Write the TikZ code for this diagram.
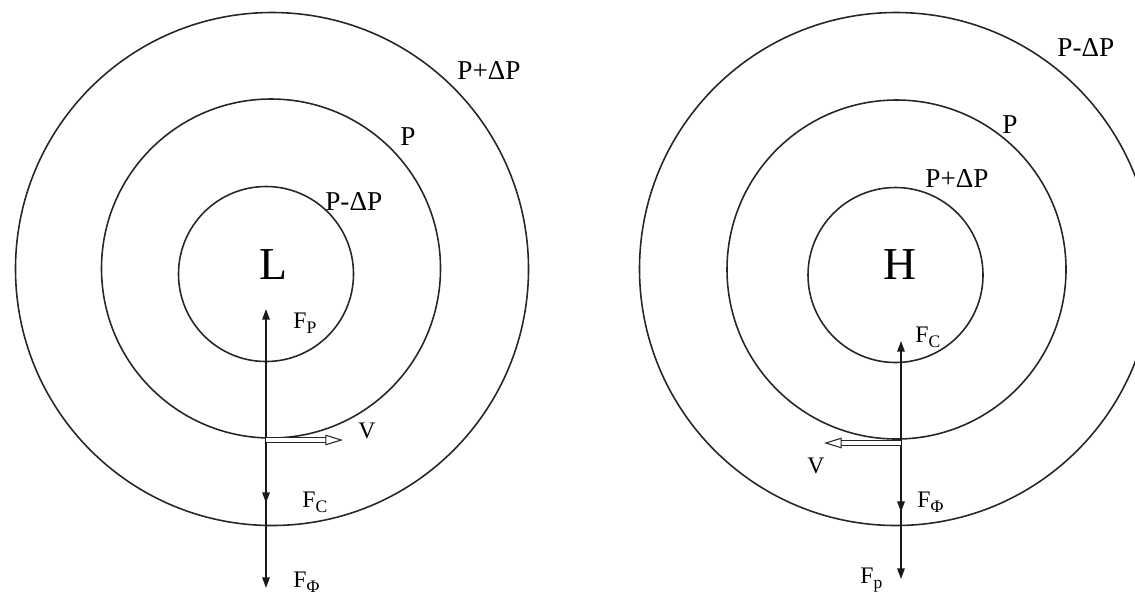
\documentclass[tikz,border=0pt]{standalone}
\usepackage{fontspec}
\setmainfont{Liberation Serif}
\usetikzlibrary{arrows.meta}
\newcommand\lowidx[1]{\raisebox{-3.2pt}{\fontsize{10}{10}\selectfont #1}}

\begin{document}
\begin{tikzpicture}[x=0.02cm,y=-0.02cm,
  ring/.style={draw=black!85, line width=0.9pt},
  force/.style={draw=black!90, line width=0.9pt, -{Triangle[length=6pt,width=4.2pt]}},
  speed/.style={draw=black!85, line width=0.6pt, double=white, double distance=2.2pt, -{Triangle[open,length=10pt,width=6pt]}},
  isobar/.style={font=\fontsize{15.5}{16}\selectfont, inner sep=0pt, anchor=base west},
  flabel/.style={font=\fontsize{13.5}{14}\selectfont, inner sep=0pt, anchor=base west},
  core/.style={font=\fontsize{26}{26}\selectfont, inner sep=0pt}]
\useasboundingbox (0,0) rectangle (1135,600);
\clip (0,0) rectangle (1135,600);

% low pressure side
\draw[ring] (272,269) circle[radius=256.5];
\draw[ring] (271,268.5) circle[radius=169.5];
\draw[ring] (266,274) circle[radius=87.5];
\node[core] (L) at (273,265) {L};
\node[isobar] (Lout) at (457,79) {P+ΔP};
\node[isobar] (Lmid) at (400,145) {P};
\node[isobar] (Lin) at (325,210) {P-ΔP};

\coordinate (Lbase) at (266,438);
\coordinate (Lp) at (266,309);
\coordinate (Lcor) at (266,503);
\coordinate (Lphi) at (266,588);
\coordinate (Lv0) at (266,440);
\coordinate (Lv) at (343,440);
\draw[force] (Lbase) -- (Lp);
\draw[force] (Lbase) -- (Lphi);
\draw[force] (Lbase) -- (Lcor);
\draw[speed] (Lv0) -- (Lv);
\node[flabel] (LFp) at (293,328) {F\lowidx{P}};
\node[flabel] (LFc) at (302,507) {F\lowidx{C}};
\node[flabel] (LFphi) at (293,587) {F\lowidx{Φ}};
\node[flabel] (LV) at (358,438) {V};

% high pressure side
\draw[ring] (896,269) circle[radius=256.5];
\draw[ring] (896.5,269.5) circle[radius=169.5];
\draw[ring] (895.5,275) circle[radius=87.5];
\node[core] (H) at (900,265) {H};
\node[isobar] (Hout) at (1057,56) {P-ΔP};
\node[isobar] (Hmid) at (1002,133) {P};
\node[isobar] (Hin) at (925,187) {P+ΔP};

\coordinate (Hbase) at (901,440);
\coordinate (Hcor) at (901,341);
\coordinate (Hphi) at (901,512);
\coordinate (Hp) at (901,579);
\coordinate (Hv0) at (901,443);
\coordinate (Hv) at (824,443);
\draw[force] (Hbase) -- (Hcor);
\draw[force] (Hbase) -- (Hp);
\draw[force] (Hbase) -- (Hphi);
\draw[speed] (Hv0) -- (Hv);
\node[flabel] (HFc) at (915,342) {F\lowidx{C}};
\node[flabel] (HFphi) at (917,507) {F\lowidx{Φ}};
\node[flabel] (HFp) at (860,583) {F\lowidx{p}};
\node[flabel] (HV) at (807,473) {V};

\end{tikzpicture}
\end{document}
